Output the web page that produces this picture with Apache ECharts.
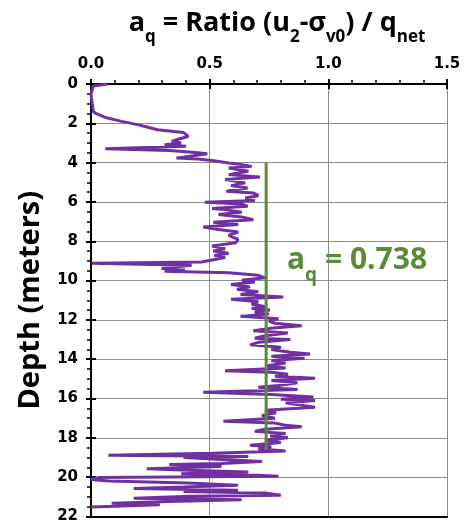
<!DOCTYPE html>
<html>
<head>
<meta charset="utf-8">
<script src="https://cdn.jsdelivr.net/npm/echarts@6/dist/echarts.min.js"></script>
<style>html,body{margin:0;padding:0;background:#fff;}#c{width:466px;height:524px;}</style>
</head>
<body>
<div id="c"></div>
<script>
const depth = [0,0.1,0.5,1.0,1.4,1.5,1.7,1.9,2.08,2.2,2.33,2.47,2.67,2.8,2.92,3.0,3.09,3.17,3.29,3.38,3.48,3.55,3.77,3.82,3.89,
4.02,4.1,4.19,4.27,4.44,4.61,4.73,4.86,5.03,5.17,5.29,5.46,5.54,5.68,5.8,5.92,6.02,6.1,6.22,6.33,6.39,6.52,6.64,6.76,6.9,
7.03,7.15,7.28,7.4,7.53,7.7,7.9,8.07,8.24,8.38,8.5,8.61,8.72,8.83,8.95,9.05,9.12,9.22,9.39,9.46,9.52,9.6,9.73,9.86,9.98,
10.07,10.2,10.32,10.44,10.57,10.71,10.83,10.95,11.08,11.2,11.33,11.42,11.5,11.6,11.7,11.82,11.94,12.07,12.17,12.3,12.43,
12.55,12.67,12.8,12.93,13.0,13.14,13.27,13.39,13.51,13.65,13.73,13.85,13.95,14.07,14.19,14.33,14.45,14.58,14.66,14.76,
14.86,14.97,15.08,15.2,15.34,15.42,15.54,15.68,15.8,15.92,16.04,16.1,16.22,16.44,16.6,16.72,16.86,17.0,17.16,17.25,17.36,
17.44,17.56,17.67,17.78,17.9,18.0,18.12,18.23,18.37,18.45,18.55,18.67,18.78,18.88,18.95,19.0,19.1,19.2,19.3,19.35,19.46,
19.57,19.65,19.74,19.82,19.9,19.95,20.02,20.12,20.19,20.3,20.41,20.5,20.58,20.66,20.73,20.8,20.92,20.97,21.07,21.15,21.24,
21.32,21.4,21.52];
const aq = [0.07,0.01,0.0,0.005,0.01,0.02,0.06,0.13,0.2,0.24,0.28,0.39,0.41,0.37,0.34,0.38,0.31,0.40,0.06,0.33,0.44,0.49,0.36,0.45,0.51,
0.58,0.635,0.677,0.58,0.663,0.58,0.712,0.565,0.65,0.59,0.66,0.57,0.684,0.705,0.65,0.69,0.48,0.635,0.66,0.51,0.565,0.635,0.537,0.635,0.684,
0.515,0.62,0.473,0.537,0.62,0.58,0.62,0.61,0.51,0.565,0.515,0.58,0.52,0.565,0.51,0.466,0.003,0.424,0.298,0.396,0.31,0.58,0.705,0.733,0.636,
0.69,0.59,0.67,0.615,0.705,0.63,0.81,0.59,0.705,0.677,0.74,0.677,0.754,0.69,0.75,0.63,0.79,0.75,0.775,0.888,0.755,
0.684,0.83,0.733,0.69,0.84,0.705,0.67,0.80,0.76,0.84,0.923,0.76,0.90,0.76,0.82,0.74,0.82,0.565,0.76,0.83,
0.775,0.944,0.76,0.87,0.79,0.705,0.87,0.473,0.76,0.937,0.80,0.944,0.82,0.944,0.733,0.78,0.72,0.775,0.558,0.775,0.82,
0.888,0.733,0.69,0.82,0.755,0.83,0.733,0.80,0.67,0.76,0.705,0.82,0.51,0.073,0.663,0.39,0.55,0.72,0.55,0.33,0.55,
0.235,0.41,0.663,0.38,0.70,0.79,0.03,0.0,0.075,0.41,0.62,0.39,0.18,0.62,0.39,0.735,0.80,0.42,0.18,0.635,0.33,
0.087,0.29,0.0];
const aqAvg = 0.738;
const avgDepth = [4, 18.6];
const xTicks = [0, 0.5, 1.0, 1.5];
const yTicks = [0, 2, 4, 6, 8, 10, 12, 14, 16, 18, 20, 22];

const chart = echarts.init(document.getElementById('c'));
const lblFont = {fontFamily: 'DejaVu Sans', fontWeight: 'bold', fontSize: 15, color: '#000'};
chart.setOption({
  animation: false,
  title: [{
    left: 272, top: 5, textAlign: 'center',
    text: '{b|a}{s|q}{b| = Ratio (u}{s|2}{b|-σ}{s|v0}{b|) / q}{s|net}',
    textStyle: {
      rich: {
        b: {fontFamily: 'Open Sans', fontWeight: 'bold', fontSize: 27, lineHeight: 36, color: '#000', verticalAlign: 'top'},
        s: {fontFamily: 'Open Sans', fontWeight: 'bold', fontSize: 17, lineHeight: 17, color: '#000', verticalAlign: 'bottom'}
      }
    }
  }, {
    left: 282, top: 240,
    text: '{b|a}{s|q}{b| = 0.738}',
    textStyle: {
      rich: {
        b: {fontFamily: 'Open Sans', fontWeight: 'bold', fontSize: 30, lineHeight: 40, color: '#5b8a3a', verticalAlign: 'top'},
        s: {fontFamily: 'Open Sans', fontWeight: 'bold', fontSize: 19, lineHeight: 19, color: '#5b8a3a', verticalAlign: 'bottom'}
      }
    }
  }],
  grid: {left: 91, right: 19, top: 84, bottom: 6},
  xAxis: [{
    type: 'value', position: 'top', min: 0, max: 1.5, interval: 0.5,
    axisLine: {show: true, onZero: false, lineStyle: {color: '#000', width: 2}},
    axisTick: {show: true, length: 5, lineStyle: {color: '#000', width: 2}},
    minorTick: {show: true, splitNumber: 5, length: 4, lineStyle: {color: '#000', width: 1.5}},
    splitLine: {show: true, lineStyle: {color: '#8c8c8c', width: 1}},
    axisLabel: Object.assign({margin: 12, formatter: v => xTicks.indexOf(v) >= 0 ? v.toFixed(1) : ''}, lblFont)
  }, {
    type: 'value', position: 'top', min: 0, max: 1.5, interval: 0.5,
    axisLine: {show: false, onZero: false},
    axisTick: {show: true, inside: true, length: 5, lineStyle: {color: '#000', width: 2}},
    axisLabel: {show: false}, splitLine: {show: false}
  }, {
    type: 'value', position: 'bottom', min: 0, max: 1.5, interval: 0.5,
    axisLine: {show: true, onZero: false, lineStyle: {color: '#000', width: 2}},
    axisTick: {show: false}, axisLabel: {show: false}, splitLine: {show: false}
  }],
  yAxis: [{
    type: 'value', inverse: true, min: 0, max: 22, interval: 2, position: 'left',
    name: 'Depth (meters)', nameLocation: 'middle', nameGap: 46, nameRotate: 90,
    nameTextStyle: {fontFamily: 'Open Sans', fontWeight: 'bold', fontSize: 29, color: '#000'},
    axisLine: {show: true, onZero: false, lineStyle: {color: '#000', width: 2}},
    axisTick: {show: true, length: 5, lineStyle: {color: '#000', width: 2}},
    minorTick: {show: true, splitNumber: 4, length: 4, lineStyle: {color: '#000', width: 1.5}},
    splitLine: {show: true, lineStyle: {color: '#8c8c8c', width: 1}},
    axisLabel: Object.assign({margin: 13, formatter: v => yTicks.indexOf(v) >= 0 ? String(v) : ''}, lblFont)
  }, {
    type: 'value', inverse: true, min: 0, max: 22, interval: 2, position: 'left',
    axisLine: {show: false, onZero: false},
    axisTick: {show: true, inside: true, length: 5, lineStyle: {color: '#000', width: 2}},
    axisLabel: {show: false}, splitLine: {show: false}
  }],
  series: [{
    type: 'line', xAxisIndex: 0, yAxisIndex: 0, symbol: 'none', z: 3,
    lineStyle: {color: '#7030a0', width: 3},
    data: depth.map((d, i) => [aq[i], d])
  }, {
    type: 'line', xAxisIndex: 0, yAxisIndex: 0, symbol: 'none', z: 4,
    lineStyle: {color: '#5b8a3a', width: 3},
    data: avgDepth.map(d => [aqAvg, d])
  }]
});
</script>
</body>
</html>
